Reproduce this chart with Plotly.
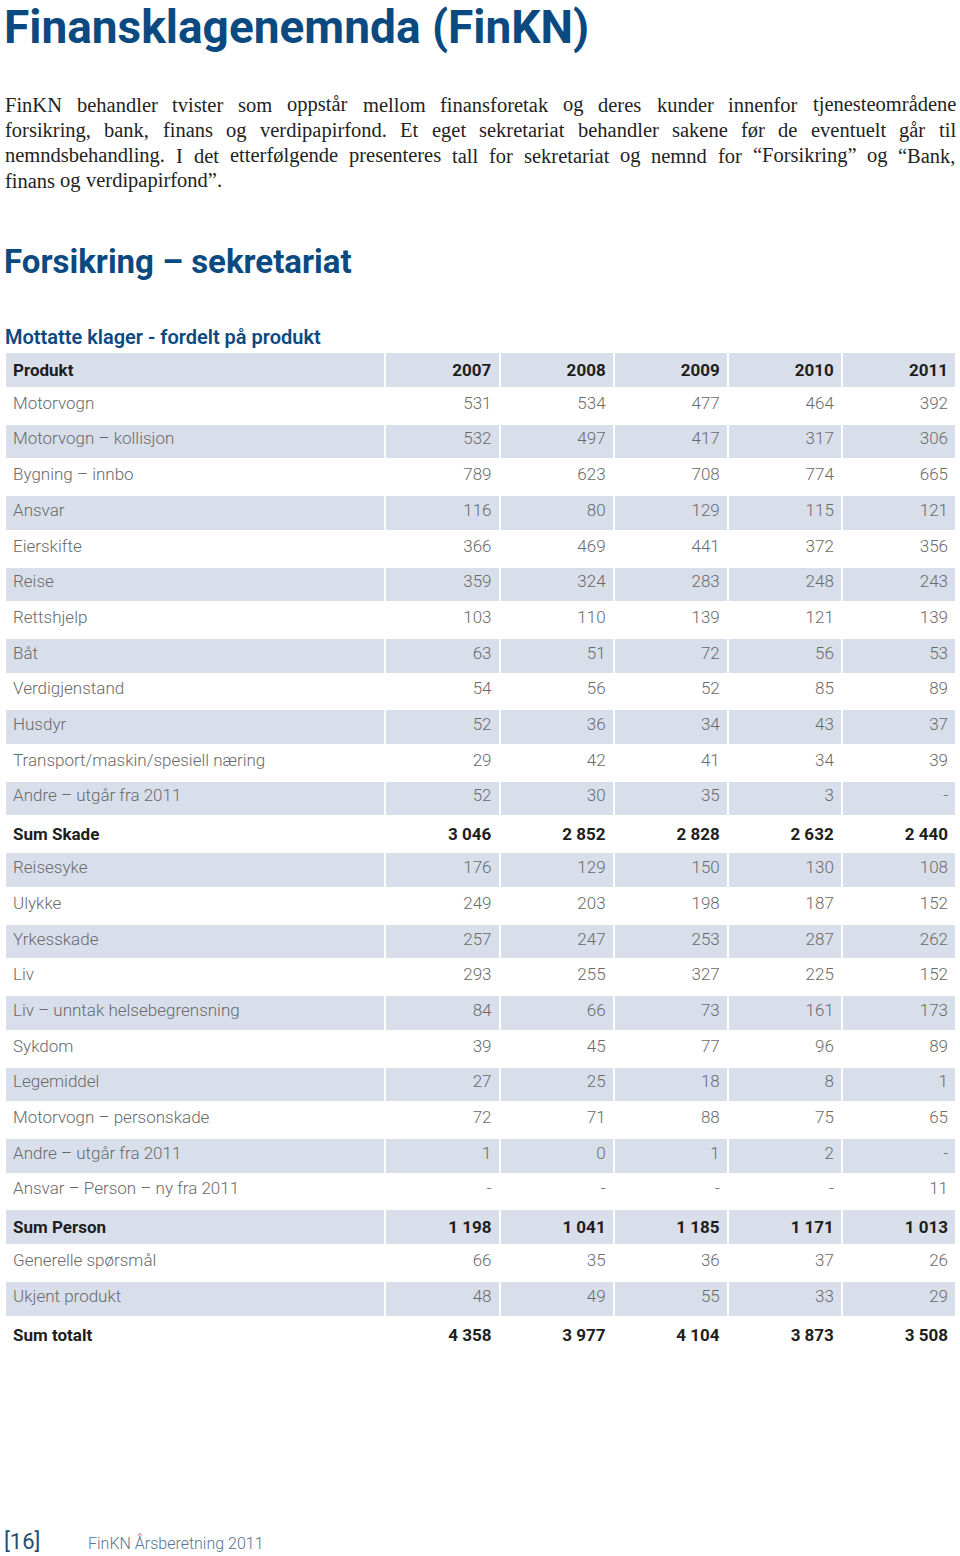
import plotly.graph_objects as go

# --- data -------------------------------------------------------------
years = ["2007", "2008", "2009", "2010", "2011"]

products = [
    "Motorvogn", "Motorvogn – kollisjon", "Bygning – innbo", "Ansvar",
    "Eierskifte", "Reise", "Rettshjelp", "Båt", "Verdigjenstand", "Husdyr",
    "Transport/maskin/spesiell næring", "Andre – utgår fra 2011",
    "Sum Skade",
    "Reisesyke", "Ulykke", "Yrkesskade", "Liv",
    "Liv – unntak helsebegrensning", "Sykdom", "Legemiddel",
    "Motorvogn – personskade", "Andre – utgår fra 2011",
    "Ansvar – Person – ny fra 2011",
    "Sum Person",
    "Generelle spørsmål", "Ukjent produkt",
    "Sum totalt",
]

v2007 = [531, 532, 789, 116, 366, 359, 103, 63, 54, 52, 29, 52, 3046,
         176, 249, 257, 293, 84, 39, 27, 72, 1, None, 1198, 66, 48, 4358]
v2008 = [534, 497, 623, 80, 469, 324, 110, 51, 56, 36, 42, 30, 2852,
         129, 203, 247, 255, 66, 45, 25, 71, 0, None, 1041, 35, 49, 3977]
v2009 = [477, 417, 708, 129, 441, 283, 139, 72, 52, 34, 41, 35, 2828,
         150, 198, 253, 327, 73, 77, 18, 88, 1, None, 1185, 36, 55, 4104]
v2010 = [464, 317, 774, 115, 372, 248, 121, 56, 85, 43, 34, 3, 2632,
         130, 187, 287, 225, 161, 96, 8, 75, 2, None, 1171, 37, 33, 3873]
v2011 = [392, 306, 665, 121, 356, 243, 139, 53, 89, 37, 39, None, 2440,
         108, 152, 262, 152, 173, 89, 1, 65, None, 11, 1013, 26, 29, 3508]

sum_rows = {"Sum Skade", "Sum Person", "Sum totalt"}

title = "Finansklagenemnda (FinKN)"
intro_lines = [
    "FinKN behandler tvister som oppstår mellom finansforetak og deres kunder innenfor tjenesteområdene",
    "forsikring, bank, finans og verdipapirfond. Et eget sekretariat behandler sakene før de eventuelt går til",
    "nemndsbehandling. I det etterfølgende presenteres tall for sekretariat og nemnd for “Forsikring” og “Bank,",
    "finans og verdipapirfond”.",
]
section = "Forsikring – sekretariat"
subtitle = "Mottatte klager - fordelt på produkt"

W, H = 960, 1556
BLUE = "#0b4a80"
SHADE = "#d9dfea"
GREY = "#6a6a6a"
DARK = "#1e1e1e"


def fmt(v):
    if v is None:
        return "-"
    return f"{v:,}".replace(",", " ")


def px(x):
    return x / W


def py(y):
    return 1 - y / H


# Times metrics (per 1000 em) used to space out justified words
TIMES = dict(zip("abcdefghijklmnopqrstuvwxyz",
                 [444, 500, 444, 500, 444, 333, 500, 500, 278, 278, 500, 278, 778,
                  500, 500, 500, 500, 333, 389, 278, 500, 500, 722, 500, 500, 444]))
TIMES.update({" ": 250, ",": 250, ".": 250, "F": 556, "K": 722, "N": 722, "E": 611,
              "I": 333, "B": 667, "ø": 500, "å": 444, "“": 444, "”": 444})


def word_width(w, size):
    return sum(TIMES.get(c, 500) for c in w) * size / 1000


body_size = 20.5
left, right = 3, 954

annotations = []
for i, line in enumerate(intro_lines):
    y = 105 + i * 25.3
    words = line.split(" ")
    widths = [word_width(w, body_size) for w in words]
    last = i == len(intro_lines) - 1
    if last:
        gap = word_width(" ", body_size)
    else:
        gap = (right - left - sum(widths)) / (len(words) - 1)
    x = left
    for w, ww in zip(words, widths):
        annotations.append(dict(
            x=px(x), y=py(y), text=w, xanchor="left", yanchor="middle",
            font=dict(family="Liberation Serif", size=body_size, color="#232323"),
        ))
        x += ww + gap

annotations += [
    dict(x=px(2), y=py(27), text=title, xanchor="left", yanchor="middle",
         font=dict(family="Roboto", size=46, color=BLUE, weight=700)),
    dict(x=px(2), y=py(262), text=section, xanchor="left", yanchor="middle",
         font=dict(family="Roboto", size=33, color=BLUE, weight=700)),
    dict(x=px(3), y=py(337), text=subtitle, xanchor="left", yanchor="middle",
         font=dict(family="Roboto", size=20, color=BLUE, weight=600)),
    dict(x=px(2), y=py(1541), text="[16]", xanchor="left", yanchor="middle",
         font=dict(family="Roboto", size=22, color="#1f4e78", weight=400)),
    dict(x=px(86), y=py(1543), text="FinKN Årsberetning 2011", xanchor="left", yanchor="middle",
         font=dict(family="Roboto", size=16, color="#5a7390", weight=300)),
]
for a in annotations:
    a.update(xref="paper", yref="paper", showarrow=False)

# --- table ------------------------------------------------------------
row_fill = [("white" if r % 2 == 0 else SHADE) for r in range(len(products))]
is_sum = [p in sum_rows for p in products]


def cell(text, bold):
    return f"<b>{text}</b>" if bold else text


col_prod = [cell(p, b) for p, b in zip(products, is_sum)]
cols_val = [[cell(fmt(v), b) for v, b in zip(vals, is_sum)]
            for vals in (v2007, v2008, v2009, v2010, v2011)]
font_colors = [DARK if b else GREY for b in is_sum]

row_h = 35.7
table = go.Table(
    domain=dict(x=[px(5), px(956)], y=[py(1360), py(352)]),
    columnwidth=[380, 114, 114, 114, 114, 114],
    header=dict(
        values=["<b>Produkt</b>"] + [f"<b>{y}</b>" for y in years],
        fill_color=SHADE,
        line=dict(color="white", width=2),
        align=["left"] + ["right"] * 5,
        font=dict(family="Roboto", size=17, color=DARK),
        height=row_h,
    ),
    cells=dict(
        values=[col_prod] + cols_val,
        fill_color=[row_fill] * 6,
        line=dict(color="white", width=2),
        align=["left"] + ["right"] * 5,
        font=dict(family="Roboto", size=17, color=[font_colors] * 6, weight=300),
        height=row_h,
    ),
)

fig = go.Figure(table)
fig.update_layout(
    width=W, height=H,
    margin=dict(l=0, r=0, t=0, b=0),
    paper_bgcolor="white",
    annotations=annotations,
)
# drop the page's default body margin so the figure sits at the window's corner
fig.write_html("out.html", config={"displayModeBar": False},
               post_script="document.body.style.margin='0';")
